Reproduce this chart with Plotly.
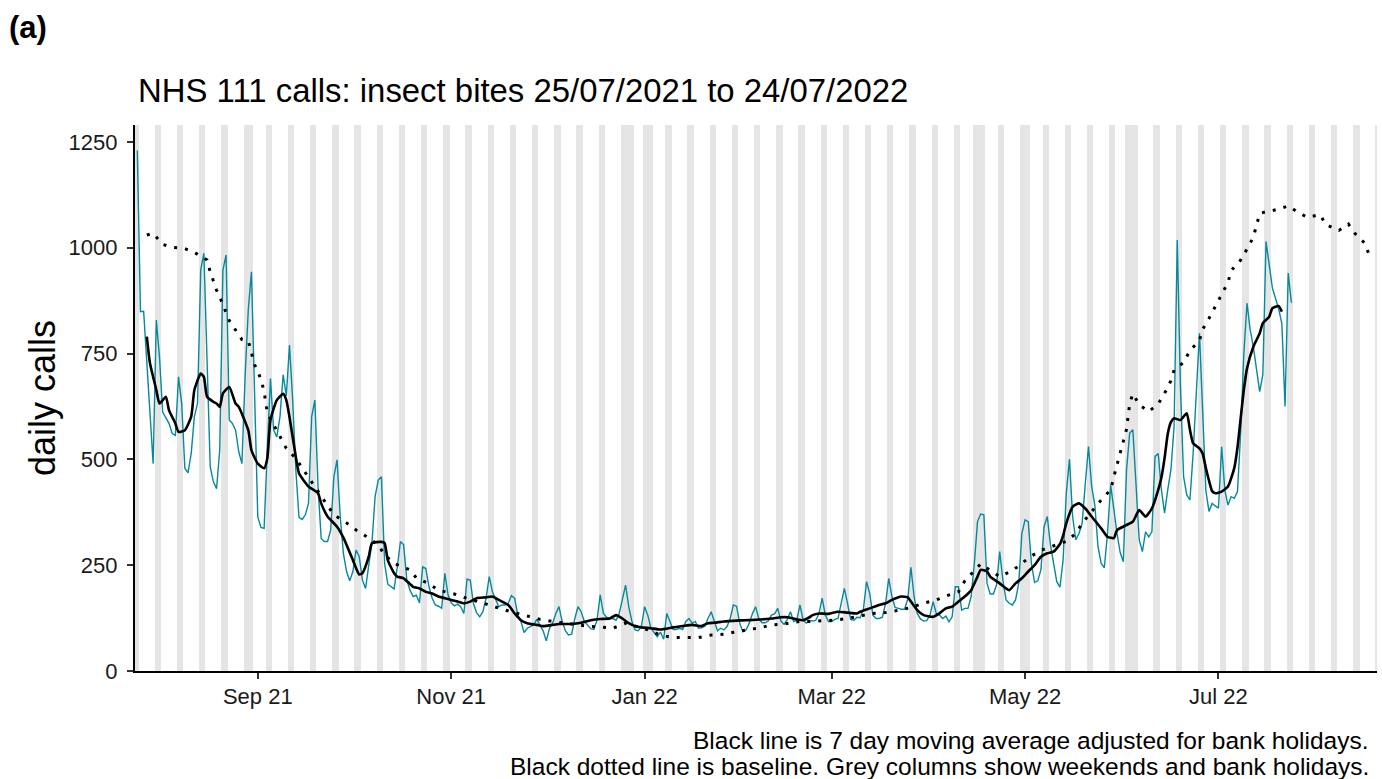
import pandas as pd
import plotly.graph_objects as go

# ---------------- data ----------------
start_date = "2021-07-25"

# daily NHS 111 calls for insect bites, 25/07/2021 .. 24/07/2022
daily_calls = [
    1230, 849, 850, 727, 601, 490, 829,
    742, 612, 597, 585, 561, 557, 695,
    632, 479, 468, 514, 601, 632, 947,
    987, 711, 482, 447, 431, 522, 947,
    983, 593, 585, 569, 518, 490, 695,
    853, 943, 632, 364, 339, 337, 522,
    691, 569, 553, 601, 700, 650, 770,
    640, 475, 363, 358, 369, 396, 601,
    640, 436, 313, 306, 306, 333, 459,
    499, 365, 278, 235, 213, 235, 286,
    270, 215, 195, 250, 302, 412, 451,
    459, 254, 205, 199, 194, 246, 306,
    298, 215, 191, 176, 179, 161, 246,
    242, 199, 172, 156, 153, 148, 231,
    180, 161, 154, 158, 152, 136, 217,
    215, 160, 138, 128, 140, 172, 223,
    187, 169, 152, 156, 156, 160, 178,
    172, 132, 117, 91, 101, 105, 109,
    122, 109, 95, 71, 101, 113, 136,
    152, 117, 95, 85, 87, 124, 152,
    140, 117, 109, 100, 98, 120, 180,
    136, 127, 124, 124, 120, 136, 168,
    203, 152, 117, 97, 95, 105, 152,
    132, 101, 91, 81, 92, 75, 136,
    117, 98, 98, 101, 98, 117, 124,
    113, 117, 101, 102, 106, 124, 140,
    117, 95, 101, 97, 105, 124, 156,
    153, 113, 93, 97, 113, 135, 152,
    124, 114, 114, 118, 132, 135, 148,
    118, 110, 122, 140, 117, 120, 156,
    120, 113, 119, 118, 120, 135, 172,
    132, 117, 117, 122, 124, 160, 195,
    160, 122, 120, 127, 126, 145, 211,
    183, 132, 124, 124, 127, 160, 219,
    176, 150, 148, 146, 146, 170, 245,
    176, 136, 123, 118, 119, 132, 164,
    136, 132, 124, 130, 116, 128, 199,
    199, 144, 148, 148, 176, 254, 353,
    371, 369, 207, 182, 182, 203, 282,
    215, 168, 160, 156, 168, 207, 325,
    357, 353, 254, 209, 213, 239, 341,
    365, 298, 258, 211, 198, 262, 420,
    500, 365, 310, 325, 349, 443, 530,
    436, 392, 294, 254, 244, 325, 439,
    380, 325, 280, 258, 475, 562, 570,
    443, 310, 282, 329, 317, 329, 507,
    514, 428, 373, 428, 475, 577, 1018,
    672, 459, 416, 404, 514, 672, 798,
    617, 428, 377, 396, 390, 385, 530,
    428, 392, 412, 408, 424, 562, 750,
    869, 806, 766, 711, 660, 700, 1015,
    960, 905, 880, 855, 820, 625, 940, 870,
]

# 7-day moving average (black line): day offset from start, value
ma_day = [3, 4, 6, 7, 9, 10, 12, 13, 15, 17, 18, 20, 21, 22, 24, 25, 26, 27, 29, 31,
          32, 35, 36, 38, 40, 41, 42, 44, 46, 47, 48, 50, 51, 54, 57, 58, 60, 63, 65, 68,
          70, 71, 73, 74, 77, 78, 79, 81, 82, 84, 87, 89, 91, 93, 95, 97, 99, 101, 103, 105,
          107, 110, 112, 114, 117, 119, 121, 123, 126, 128, 131, 133, 137, 140, 143, 146, 149, 151, 153, 155,
          157, 159, 162, 165, 169, 172, 175, 178, 180, 182, 185, 189, 192, 195, 200, 203, 205, 208, 210, 212,
          213, 215, 218, 221, 224, 227, 228, 231, 234, 236, 238, 241, 243, 244, 246, 248, 251, 253, 255, 257,
          259, 261, 263, 265, 266, 268, 269, 272, 274, 275, 277, 279, 281, 283, 285, 287, 289, 291, 292, 293,
          295, 297, 299, 301, 304, 306, 308, 309, 312, 314, 316, 318, 320, 322, 323, 324, 325, 326, 327, 329,
          331, 332, 333, 335, 336, 337, 338, 339, 340, 342, 344, 346, 347, 348, 349, 350, 352, 354, 355, 357,
          358, 360, 361]
ma_value = [790, 727, 664, 632, 648, 616, 585, 565, 569, 601, 664, 703, 695, 648, 636, 632, 624, 656, 671, 632,
            624, 569, 522, 490, 479, 502, 593, 640, 655, 640, 600, 506, 467, 436, 420, 396, 365, 341, 315, 262,
            228, 231, 270, 302, 305, 302, 262, 231, 223, 219, 199, 195, 187, 183, 176, 172, 168, 164, 160, 164,
            172, 174, 176, 168, 156, 136, 120, 113, 109, 106, 109, 111, 111, 114, 120, 123, 124, 132, 124, 113,
            106, 103, 101, 98, 103, 106, 109, 106, 113, 114, 117, 119, 120, 121, 124, 127, 127, 122, 120, 127,
            132, 136, 135, 140, 138, 136, 140, 148, 156, 160, 168, 176, 174, 164, 144, 132, 128, 136, 148, 152,
            164, 176, 191, 223, 239, 235, 223, 207, 195, 191, 207, 219, 235, 250, 270, 278, 282, 300, 320, 349,
            388, 396, 384, 365, 337, 317, 314, 333, 345, 353, 380, 365, 384, 428, 457, 503, 560, 588, 597, 593,
            609, 570, 538, 526, 514, 480, 450, 425, 420, 424, 436, 480, 528, 597, 664, 715, 766, 798, 822, 837,
            857, 862, 849]

# baseline (black dotted line): day offset from start, value
baseline_day = [3, 5, 8, 11, 15, 18, 22, 23, 25, 26, 29, 31, 33, 35, 37, 39, 40, 41, 43, 45,
                47, 50, 56, 62, 66, 69, 72, 76, 78, 81, 86, 88, 92, 95, 100, 103, 111, 115, 123, 127,
                131, 134, 143, 146, 150, 154, 161, 165, 169, 173, 177, 181, 185, 189, 193, 197, 200, 204, 209, 212,
                216, 220, 224, 228, 232, 236, 240, 244, 248, 252, 255, 259, 261, 266, 272, 276, 279, 282, 286, 293,
                296, 298, 304, 307, 308, 310, 312, 313, 314, 316, 319, 322, 324, 326, 327, 330, 332, 335, 336, 338,
                340, 342, 344, 345, 348, 350, 352, 354, 356, 360, 363, 366, 369, 373, 375, 379, 382, 384, 387, 389]
baseline_value = [1030, 1034, 1008, 1001, 998, 989, 971, 943, 900, 884, 828, 805, 783, 780, 724, 690, 660, 610, 581, 552,
                  526, 502, 435, 369, 350, 333, 319, 298, 274, 254, 239, 220, 206, 191, 182, 174, 156, 146, 130, 122,
                  117, 114, 105, 104, 101, 113, 97, 85, 79, 79, 79, 85, 87, 93, 98, 103, 109, 111, 117, 117,
                  119, 120, 124, 130, 136, 138, 143, 150, 160, 168, 177, 187, 213, 253, 223, 237, 254, 272, 288, 306,
                  325, 349, 404, 428, 459, 514, 571, 632, 655, 629, 613, 631, 656, 686, 711, 729, 757, 781, 807, 833,
                  862, 888, 918, 946, 971, 997, 1025, 1081, 1085, 1091, 1099, 1084, 1072, 1078, 1054, 1041, 1056, 1034, 1012, 975]

bank_holidays = ["2021-08-30", "2021-12-27", "2021-12-28", "2022-01-03", "2022-04-15",
                 "2022-04-18", "2022-05-02", "2022-06-02", "2022-06-03"]

tick_dates = ["2021-09-01", "2021-11-01", "2022-01-01", "2022-03-01", "2022-05-01", "2022-07-01"]
tick_labels = ["Sep 21", "Nov 21", "Jan 22", "Mar 22", "May 22", "Jul 22"]
y_ticks = [0, 250, 500, 750, 1000, 1250]

# ---------------- derived ----------------
t0 = pd.Timestamp(start_date)
dates = pd.date_range(start_date, periods=len(daily_calls), freq="D")
ma_dates = t0 + pd.to_timedelta(ma_day, unit="D")
base_dates = t0 + pd.to_timedelta(baseline_day, unit="D")

X_RANGE = ["2021-07-24 06:35", "2022-08-20 00:00"]
Y_TOP = 1290
all_days = pd.date_range("2021-07-24", "2022-08-20", freq="D")
hol = set(pd.to_datetime(bank_holidays))
shade_days = [d for d in all_days if d.weekday() >= 5 or d in hol]

FONT = "Liberation Sans, Arial, Helvetica, sans-serif"
TEXT = "#1a1a1a"

fig = go.Figure()
fig.add_trace(go.Bar(x=shade_days, y=[Y_TOP] * len(shade_days), width=86400000,
                     marker=dict(color="#E5E5E5", line=dict(width=0)), hoverinfo="skip"))
fig.add_trace(go.Scatter(x=dates, y=daily_calls, mode="lines",
                         line=dict(color="#06899C", width=1.4), hoverinfo="skip"))
fig.add_trace(go.Scatter(x=ma_dates, y=ma_value, mode="lines",
                         line=dict(color="black", width=2.6, shape="spline", smoothing=0.5),
                         hoverinfo="skip"))
fig.add_trace(go.Scatter(x=base_dates, y=baseline_value, mode="lines",
                         line=dict(color="black", width=3, dash="3px,8px"), hoverinfo="skip"))

fig.update_layout(
    width=1382, height=779,
    margin=dict(l=135, r=5, t=125, b=108),
    plot_bgcolor="white", paper_bgcolor="white",
    showlegend=False, bargap=0, hovermode=False,
    font=dict(family=FONT, color=TEXT),
)
fig.update_xaxes(type="date", range=X_RANGE, tickvals=tick_dates, ticktext=tick_labels,
                 showline=True, linecolor="black", linewidth=2.2,
                 ticks="outside", ticklen=6, tickwidth=2, tickcolor="#333333",
                 tickfont=dict(size=22, color=TEXT, family=FONT),
                 showgrid=False, zeroline=False, ticklabelstandoff=-2)
fig.update_yaxes(range=[0, Y_TOP], tickvals=y_ticks, ticktext=[str(v) for v in y_ticks],
                 showline=True, linecolor="black", linewidth=2.2,
                 ticks="outside", ticklen=6, tickwidth=2, tickcolor="#333333",
                 tickfont=dict(size=22, color=TEXT, family=FONT),
                 showgrid=False, zeroline=False, ticklabelstandoff=5)

W = 1242.0
H = 546.0
def px(x):
    return (x - 135) / W
def py(y):
    return (671 - y) / H

fig.add_annotation(text="<b>(a)</b>", x=px(7), y=py(28), xref="paper", yref="paper",
                   xanchor="left", yanchor="middle", showarrow=False,
                   font=dict(size=31, color="black", family=FONT))
fig.add_annotation(text="NHS 111 calls: insect bites 25/07/2021 to 24/07/2022",
                   x=px(136), y=py(90), xref="paper", yref="paper",
                   xanchor="left", yanchor="middle", showarrow=False,
                   font=dict(size=32.9, color="black", family=FONT))
fig.add_annotation(text="daily calls", x=px(42), y=0.5, xref="paper", yref="paper",
                   xanchor="center", yanchor="middle", textangle=-90, showarrow=False,
                   font=dict(size=36, color="black", family=FONT))
fig.add_annotation(text="Black line is 7 day moving average adjusted for bank holidays.",
                   x=px(1371), y=py(740), xref="paper", yref="paper",
                   xanchor="right", yanchor="middle", showarrow=False,
                   font=dict(size=24.5, color="black", family=FONT))
fig.add_annotation(text="Black dotted line is baseline. Grey columns show weekends and bank holidays.",
                   x=px(1371), y=py(766), xref="paper", yref="paper",
                   xanchor="right", yanchor="middle", showarrow=False,
                   font=dict(size=24.5, color="black", family=FONT))

fig.write_html("out.html", config={"displayModeBar": False},
               post_script="document.body.style.margin='0';document.body.style.overflow='hidden';")
